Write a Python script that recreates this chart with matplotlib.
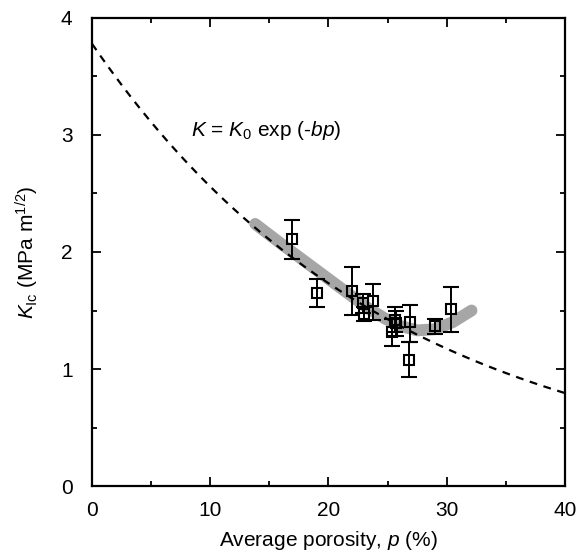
import numpy as np
import matplotlib
matplotlib.use('Agg')
import matplotlib.pyplot as plt
from matplotlib.ticker import MultipleLocator

plt.rcParams['font.family'] = ['Liberation Sans', 'DejaVu Sans']
plt.rcParams['mathtext.fontset'] = 'custom'
plt.rcParams['mathtext.rm'] = 'Liberation Sans'
plt.rcParams['mathtext.it'] = 'Liberation Sans:italic'

# measured points: porosity (%), K_Ic (MPa m^1/2), error bar limits
porosity = [16.9, 19.0, 22.0, 22.9, 23.0, 23.8, 25.6, 25.7, 25.4, 26.9, 26.8, 29.0, 30.4]
k_ic = [2.11, 1.65, 1.67, 1.56, 1.47, 1.58, 1.42, 1.39, 1.32, 1.40, 1.08, 1.37, 1.51]
err_hi = [2.27, 1.77, 1.87, 1.64, 1.53, 1.73, 1.53, 1.50, 1.43, 1.55, 1.23, 1.43, 1.70]
err_lo = [1.94, 1.53, 1.46, 1.48, 1.41, 1.42, 1.32, 1.28, 1.20, 1.23, 0.93, 1.30, 1.32]

# grey trend band
band_p = [13.8, 16.0, 18.0, 20.0, 22.0, 23.5, 24.8, 26.0, 27.5, 29.0, 30.5, 32.1]
band_k = [2.24, 2.07, 1.92, 1.77, 1.62, 1.51, 1.43, 1.37, 1.33, 1.34, 1.40, 1.50]

# exponential fit K = K0 exp(-b p)
k0 = 3.78
b = 0.039

fig = plt.figure(figsize=(5.8, 5.55), dpi=100)
ax = fig.add_axes([0.1586, 0.1243, 0.8155, 0.8433])

ax.plot(band_p, band_k, color='#a6a6a6', lw=8.5, solid_capstyle='round',
        solid_joinstyle='round', zorder=1)

p_fit = np.linspace(0, 40, 200)
ax.plot(p_fit, k0 * np.exp(-b * p_fit), color='black', lw=1.6,
        linestyle=(0, (3.5, 3)), zorder=2)

k_arr = np.array(k_ic)
yerr = [k_arr - np.array(err_lo), np.array(err_hi) - k_arr]
ax.errorbar(porosity, k_ic, yerr=yerr, fmt='s', mfc='none', mec='black',
            ms=6.5, mew=1.5, ecolor='black', elinewidth=1.4, capsize=6,
            capthick=1.4, zorder=3)

ax.text(8.4, 3.04, r'$K$ = $K_0$ exp (-$bp$)', fontsize=15, va='center')

ax.set_xlim(0, 40)
ax.set_ylim(0, 4)
ax.xaxis.set_major_locator(MultipleLocator(10))
ax.xaxis.set_minor_locator(MultipleLocator(5))
ax.yaxis.set_major_locator(MultipleLocator(1))
ax.yaxis.set_minor_locator(MultipleLocator(0.5))
ax.tick_params(which='both', direction='in', top=True, right=True, width=1.3)
ax.tick_params(which='major', length=6.5, labelsize=15)
ax.tick_params(which='minor', length=3.5)
ax.tick_params(axis='x', which='major', pad=11)
ax.tick_params(axis='y', which='major', pad=14)
for s in ax.spines.values():
    s.set_linewidth(1.6)

ax.set_xlabel(r'Average porosity, $p$ (%)', fontsize=15, labelpad=6)
ax.set_ylabel(r'$K_{\mathrm{Ic}}$ (MPa m$^{1/2}$)', fontsize=15, labelpad=14)

fig.savefig('out.png', dpi=100)
